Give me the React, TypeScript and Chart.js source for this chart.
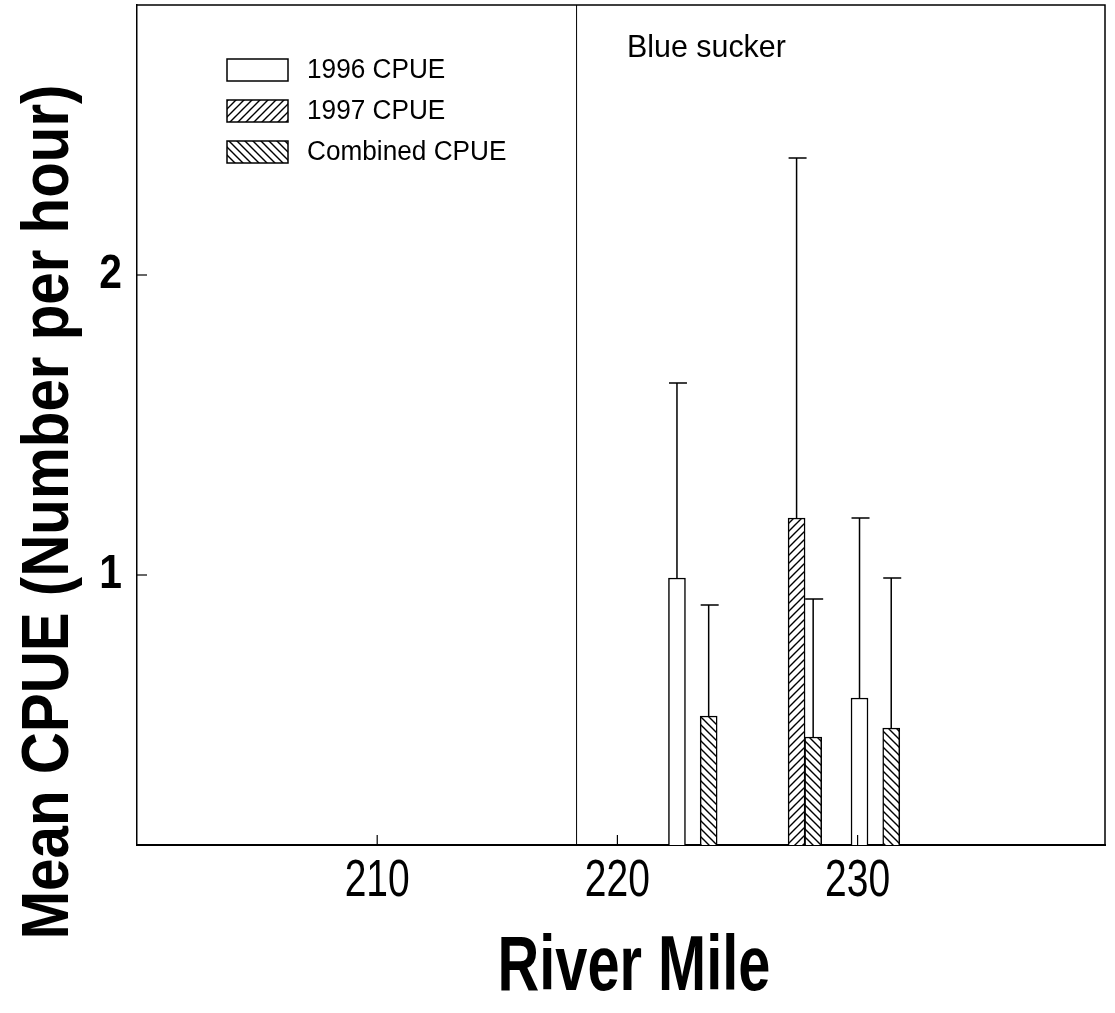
import { useEffect, useRef } from 'react';
import { Chart, registerables } from 'chart.js';
Chart.register(...registerables);

// ---- data ----
const seriesLabels = ['1996 CPUE', '1997 CPUE', 'Combined CPUE'];
const riverMile1996 = [222.48, 230.08];
const cpue1996 = [0.99, 0.59];
const err1996 = [1.64, 1.19];
const riverMile1997 = [227.46];
const cpue1997 = [1.19];
const err1997 = [2.39];
const riverMileCombined = [223.8, 228.15, 231.4];
const cpueCombined = [0.53, 0.46, 0.49];
const errCombined = [0.9, 0.92, 0.99];
const xTicks = [210, 220, 230];
const yTicks = [1, 2];
const dividerMile = 218.3;
const speciesLabel = 'Blue sucker';
const xTitle = 'River Mile';
const yTitle = 'Mean CPUE (Number per hour)';

const FONT = "'Liberation Sans', Arial, sans-serif";

function hatch(forward: boolean): CanvasPattern | string {
  const size = 8;
  const c = document.createElement('canvas');
  c.width = size;
  c.height = size;
  const g = c.getContext('2d');
  if (!g) return '#fff';
  g.fillStyle = '#fff';
  g.fillRect(0, 0, size, size);
  g.strokeStyle = '#000';
  g.lineWidth = 1.4;
  g.beginPath();
  if (forward) {
    g.moveTo(-1, size + 1); g.lineTo(size + 1, -1);
    g.moveTo(-1, 1); g.lineTo(1, -1);
    g.moveTo(size - 1, size + 1); g.lineTo(size + 1, size - 1);
  } else {
    g.moveTo(-1, -1); g.lineTo(size + 1, size + 1);
    g.moveTo(size - 1, -1); g.lineTo(size + 1, 1);
    g.moveTo(-1, size - 1); g.lineTo(1, size + 1);
  }
  g.stroke();
  return g.createPattern(c, 'repeat') || '#fff';
}

function drawText(
  ctx: CanvasRenderingContext2D, text: string, x: number, y: number, font: string,
  sx: number, align: CanvasTextAlign, baseline: CanvasTextBaseline, rot = 0,
) {
  ctx.save();
  ctx.translate(x, y);
  if (rot) ctx.rotate(rot);
  ctx.scale(sx, 1);
  ctx.font = font;
  ctx.fillStyle = '#000';
  ctx.textAlign = align;
  ctx.textBaseline = baseline;
  ctx.fillText(text, 0, 0);
  ctx.restore();
}

export default function App() {
  const ref = useRef<HTMLCanvasElement>(null);

  useEffect(() => {
    const canvas = ref.current;
    if (!canvas) return;
    const fills = ['#ffffff', hatch(true), hatch(false)];
    const errs = [err1996, err1997, errCombined];

    const decor = {
      id: 'decor',
      afterDraw(chart: any) {
        const { ctx, chartArea: a, scales } = chart;
        const xs = scales.x;
        const ys = scales.y;
        ctx.save();
        ctx.strokeStyle = '#000';
        // frame top and right
        ctx.lineWidth = 1.5;
        ctx.beginPath();
        ctx.moveTo(a.left, a.top); ctx.lineTo(a.right, a.top); ctx.lineTo(a.right, a.bottom);
        ctx.stroke();
        // divider
        ctx.lineWidth = 1;
        const dx = xs.getPixelForValue(dividerMile);
        ctx.beginPath(); ctx.moveTo(dx, a.top); ctx.lineTo(dx, a.bottom); ctx.stroke();
        // inward ticks
        ctx.lineWidth = 1.2;
        xTicks.forEach((t) => {
          const px = xs.getPixelForValue(t);
          ctx.beginPath(); ctx.moveTo(px, a.bottom); ctx.lineTo(px, a.bottom - 10); ctx.stroke();
          drawText(ctx, String(t), px, a.bottom + 37, `52px ${FONT}`, 0.75, 'center', 'middle');
        });
        yTicks.forEach((t) => {
          const py = ys.getPixelForValue(t);
          ctx.beginPath(); ctx.moveTo(a.left, py); ctx.lineTo(a.left + 10, py); ctx.stroke();
          drawText(ctx, String(t), a.left - 15, py, `bold 48px ${FONT}`, 0.85, 'right', 'middle');
        });
        // error bars
        ctx.lineWidth = 1.5;
        chart.data.datasets.forEach((ds: any, i: number) => {
          const meta = chart.getDatasetMeta(i);
          meta.data.forEach((bar: any, j: number) => {
            const top = ys.getPixelForValue(ds.data[j].y);
            const ey = ys.getPixelForValue(errs[i][j]);
            ctx.beginPath();
            ctx.moveTo(bar.x, top); ctx.lineTo(bar.x, ey);
            ctx.moveTo(bar.x - 8, ey); ctx.lineTo(bar.x + 10, ey);
            ctx.stroke();
          });
        });
        // legend
        const rows = [70, 111, 152];
        seriesLabels.forEach((lab, i) => {
          const cy = rows[i];
          ctx.fillStyle = fills[i] as any;
          ctx.fillRect(227, cy - 11, 61, 22);
          ctx.lineWidth = 1.5;
          ctx.strokeRect(227, cy - 11, 61, 22);
          drawText(ctx, lab, 307, cy + 1, `27px ${FONT}`, 0.97, 'left', 'middle');
        });
        drawText(ctx, speciesLabel, 627, 57, `32px ${FONT}`, 0.95, 'left', 'alphabetic');
        // axis titles
        drawText(ctx, xTitle, 634, 990, `bold 77px ${FONT}`, 0.75, 'center', 'alphabetic');
        drawText(ctx, yTitle, 68, 512, `bold 67px ${FONT}`, 0.87, 'center', 'alphabetic', -Math.PI / 2);
        ctx.restore();
      },
    };

    const mk = (label: string, xsArr: number[], ysArr: number[], fill: any) => ({
      label,
      data: xsArr.map((x, i) => ({ x, y: ysArr[i] })),
      backgroundColor: fill,
      borderColor: '#000',
      borderWidth: 1.5,
      barThickness: 17,
      grouped: false,
    });

    const chart = new Chart(canvas, {
      type: 'bar',
      data: {
        datasets: [
          mk(seriesLabels[0], riverMile1996, cpue1996, fills[0]),
          mk(seriesLabels[1], riverMile1997, cpue1997, fills[1]),
          mk(seriesLabels[2], riverMileCombined, cpueCombined, fills[2]),
        ] as any,
      },
      options: {
        animation: false,
        responsive: false,
        maintainAspectRatio: false,
        layout: { padding: { top: 5, right: 10, left: 0, bottom: 0 } },
        plugins: { legend: { display: false }, tooltip: { enabled: false } },
        scales: {
          x: {
            type: 'linear', min: 200, max: 240.3, offset: false,
            grid: { display: false, offset: false },
            border: { display: true, color: '#000', width: 2 },
            ticks: { display: false },
            afterFit: (s: any) => { s.height = 168; },
          },
          y: {
            type: 'linear', min: 0.1, max: 2.9,
            grid: { display: false },
            border: { display: true, color: '#000', width: 1.5 },
            ticks: { display: false },
            afterFit: (s: any) => { s.width = 137; },
          },
        },
      } as any,
      plugins: [decor],
    });
    return () => chart.destroy();
  }, []);

  return (
    <div style={{ position: 'absolute', left: 0, top: 0, width: 1115, height: 1013, background: '#fff' }}>
      <canvas ref={ref} width={1115} height={1013} style={{ display: 'block' }} />
    </div>
  );
}
